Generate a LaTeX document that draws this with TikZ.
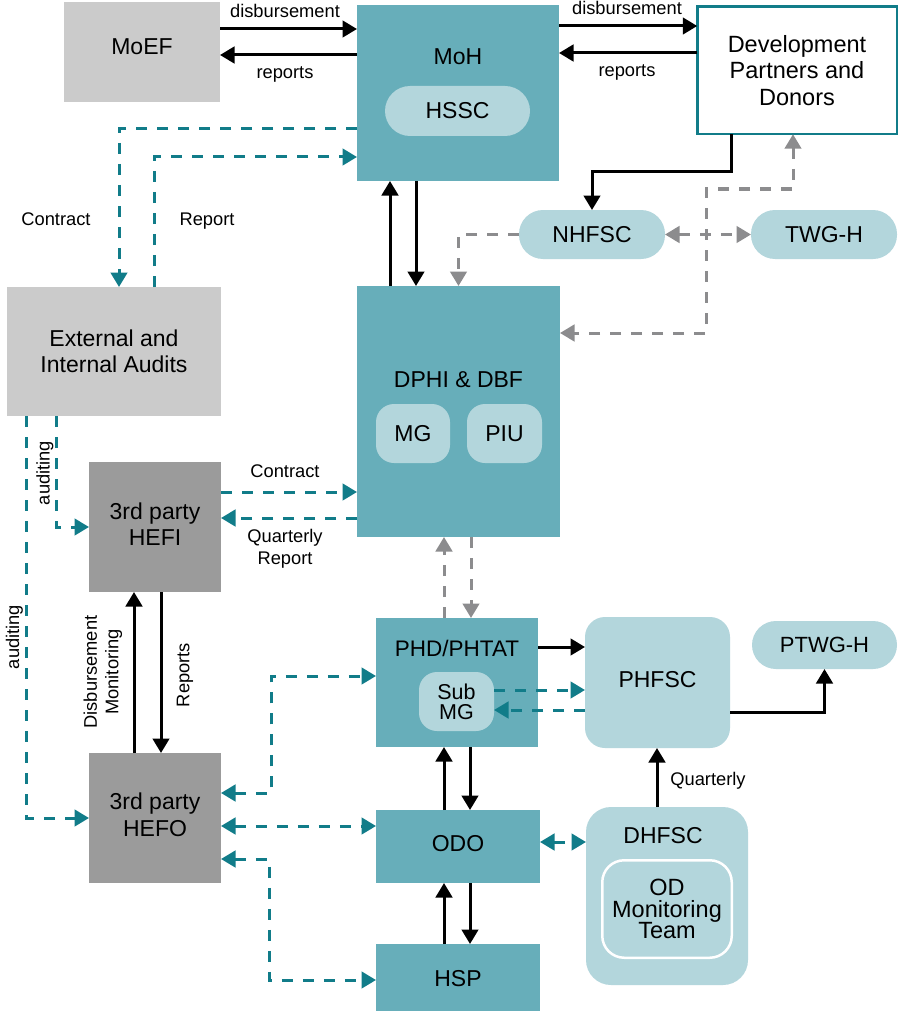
\documentclass[tikz,border=0pt]{standalone}
\usepackage{fontspec}
\setmainfont{Liberation Sans}
\usetikzlibrary{arrows.meta,calc}
\definecolor{tbox}{HTML}{67AEBA}
\definecolor{tlight}{HTML}{B3D6DC}
\definecolor{tdark}{HTML}{117C89}
\definecolor{glight}{HTML}{CBCBCB}
\definecolor{gdarkbox}{HTML}{9B9B9B}
\definecolor{gline}{HTML}{8C8C8E}
\newcommand\BigT{\fontsize{23}{26.5}\selectfont}
\newcommand\SmallT{\fontsize{18.3}{21.5}\selectfont}
\begin{document}
\begin{tikzpicture}[x=1pt,y=-1pt,
  bx/.style={inner sep=0pt, outer sep=0pt, align=center, font=\BigT, text=black},
  txt/.style={inner sep=0pt, outer sep=0pt, align=center, font=\BigT, text=black},
  lab/.style={inner sep=0pt, outer sep=0pt, align=center, font=\SmallT, text=black},
  arr/.style={line width=3pt, black, -{Triangle[length=14.5pt,width=16.5pt]}},
  tda/.style={line width=3pt, tdark, dash pattern=on 11pt off 10pt, -{Triangle[length=14.5pt,width=16.5pt]}},
  tdb/.style={line width=3pt, tdark, dash pattern=on 11pt off 10pt, {Triangle[length=14.5pt,width=16.5pt]}-{Triangle[length=14.5pt,width=16.5pt]}},
  gda/.style={line width=3pt, gline, dash pattern=on 11pt off 10pt, -{Triangle[length=14.5pt,width=16.5pt]}},
  gdb/.style={line width=3pt, gline, dash pattern=on 11pt off 10pt, {Triangle[length=14.5pt,width=16.5pt]}-{Triangle[length=14.5pt,width=16.5pt]}}
]
\useasboundingbox[fill=white] (0,0) rectangle (900,1011);

% ---------- boxes ----------
\node[bx, fill=glight, minimum width=156pt, minimum height=100pt] (moef) at (142,52) {};
\node[txt] (moeftxt) at (142,47) {MoEF};

\node[bx, fill=tbox, minimum width=202pt, minimum height=176pt] (moh) at (458,93) {};
\node[txt] (mohtxt) at (458,57) {MoH};
\node[bx, fill=tlight, minimum width=145pt, minimum height=50pt, rounded corners=25pt] (hssc) at (457.5,111) {HSSC};

\node[bx, fill=white, draw=tdark, line width=2.5pt, minimum width=199.5pt, minimum height=127.5pt, font=\fontsize{23.5}{26.5}\selectfont] (dev) at (797,70.5) {Development\\Partners and\\Donors};

\node[bx, fill=glight, minimum width=214pt, minimum height=129pt] (audits) at (114,351.5) {External and\\Internal Audits};

\node[bx, fill=tbox, minimum width=203pt, minimum height=251pt] (dphi) at (458.5,411.5) {};
\node[txt] (dphitxt) at (458.5,380) {DPHI \& DBF};
\node[bx, fill=tlight, minimum width=74pt, minimum height=59pt, rounded corners=18pt] (mg) at (413,433.5) {MG};
\node[bx, fill=tlight, minimum width=75pt, minimum height=59pt, rounded corners=18pt] (piu) at (504.5,433.5) {PIU};

\node[bx, fill=tlight, minimum width=146pt, minimum height=49pt, rounded corners=24pt] (nhfsc) at (592,234.5) {NHFSC};
\node[bx, fill=tlight, minimum width=146pt, minimum height=49pt, rounded corners=24pt] (twgh) at (824,234.5) {TWG-H};

\node[bx, fill=gdarkbox, minimum width=132pt, minimum height=130pt] (hefi) at (155,527) {};
\node[txt] (hefitxt) at (155,524) {3rd party\\HEFI};
\node[bx, fill=gdarkbox, minimum width=132pt, minimum height=130pt] (hefo) at (155,818) {};
\node[txt] (hefotxt) at (155,815) {3rd party\\HEFO};

\node[bx, fill=tbox, minimum width=162pt, minimum height=129pt] (phd) at (457,682.5) {};
\node[txt, font=\fontsize{22.5}{26}\selectfont] (phdtxt) at (457,648) {PHD/PHTAT};
\node[bx, fill=tlight, minimum width=75pt, minimum height=59pt, rounded corners=18pt, font=\fontsize{21.5}{20}\selectfont] (submg) at (456.5,701.5) {Sub\\MG};

\node[bx, fill=tlight, minimum width=145pt, minimum height=131pt, rounded corners=20pt] (phfsc) at (657.5,682.5) {};
\node[txt] (phfsctxt) at (657.5,680) {PHFSC};
\node[bx, fill=tlight, minimum width=145pt, minimum height=48pt, rounded corners=24pt, font=\fontsize{22}{26}\selectfont] (ptwgh) at (824.5,645) {PTWG-H};

\node[bx, fill=tbox, minimum width=164pt, minimum height=73pt] (odo) at (458,846.5) {};
\node[txt] (odotxt) at (458,844) {ODO};
\node[bx, fill=tbox, minimum width=164pt, minimum height=67pt] (hsp) at (458,977.5) {};
\node[txt] (hsptxt) at (458,979) {HSP};

\node[bx, fill=tlight, minimum width=162pt, minimum height=178pt, rounded corners=25pt] (dhfsc) at (667,896) {};
\node[txt] (dhfsctxt) at (663,836) {DHFSC};
\node[bx, fill=tlight, draw=white, line width=2.5pt, minimum width=129.5pt, minimum height=97.5pt, rounded corners=22pt, font=\fontsize{23.5}{21.5}\selectfont] (odteam) at (667,909) {OD\\Monitoring\\Team};

% ---------- connectors ----------
\draw[arr] (moef.east |- 0,29) -- (moh.west |- 0,29);
\draw[arr] (moh.west |- 0,55) -- (moef.east |- 0,55);
\draw[arr] (moh.east |- 0,26) -- (dev.west |- 0,26);
\draw[arr] (dev.west |- 0,53) -- (moh.east |- 0,53);
\node[lab, anchor=base] (ldis1) at (285,18) {disbursement};
\node[lab, anchor=base] (lrep1) at (285,79) {reports};
\node[lab, anchor=base] (ldis2) at (627,15) {disbursement};
\node[lab, anchor=base] (lrep2) at (627,77) {reports};

\draw[tda] (moh.west |- 0,129) -| (audits.north -| 119,0);
\draw[tda] (audits.north -| 154,0) |- (moh.west |- 0,157);
\node[lab, anchor=base] (lcon1) at (56,225) {Contract};
\node[lab, anchor=base] (lrepo1) at (207,225) {Report};

\draw[arr] (dphi.north -| 390,0) -- (moh.south -| 390,0);
\draw[arr] (moh.south -| 416,0) -- (dphi.north -| 416,0);

\draw[arr] (dev.south -| 731,0) -- ++(0,37) -| (nhfsc.north);
\draw[gdb] (nhfsc.east) -- (twgh.west);
\draw[gda] (nhfsc.west) -| (dphi.north);
\draw[gdb] (dev.south -| 793,0) -- (793,189) -- (706,189) -- (706,333) -- (dphi.east |- 0,333);

\draw[tda] (hefi.east |- 0,492) -- (dphi.west |- 0,492);
\draw[tda] (dphi.west |- 0,518) -- (hefi.east |- 0,518);
\node[lab, anchor=base] (lcon2) at (285,477) {Contract};
\node[lab] (lqr) at (285,549) {Quarterly\\Report};

\draw[tda] (audits.south -| 56,0) |- (hefi.west);
\draw[tda] (audits.south -| 26,0) |- (hefo.west);
\node[lab, rotate=90] (laud1) at (45,473) {auditing};
\node[lab, rotate=90] (laud2) at (14.5,637) {auditing};

\draw[arr] (hefo.north -| 134,0) -- (hefi.south -| 134,0);
\draw[arr] (hefi.south -| 161,0) -- (hefo.north -| 161,0);
\node[lab, rotate=90] (ldm) at (103,672) {Disbursement\\Monitoring};
\node[lab, rotate=90] (lreps) at (185,675) {Reports};

\draw[gda] (phd.north -| 444,0) -- (dphi.south -| 444,0);
\draw[gda] (dphi.south -| 471,0) -- (phd.north -| 471,0);

\draw[arr] (phd.east |- 0,647) -- (phfsc.west |- 0,647);
\draw[tda] (submg.east |- 0,690) -- (phfsc.west |- 0,690);
\draw[tda] (phfsc.west |- 0,710) -- (submg.east |- 0,710);
\draw[arr] (phfsc.east |- 0,712) -| (ptwgh.south);

\draw[arr] (dhfsc.north -| 657,0) -- (phfsc.south -| 657,0);
\node[lab, anchor=base] (lquart) at (708,785) {Quarterly};

\draw[arr] (odo.north -| 444,0) -- (phd.south -| 444,0);
\draw[arr] (phd.south -| 470,0) -- (odo.north -| 470,0);
\draw[arr] (hsp.north -| 444,0) -- (odo.south -| 444,0);
\draw[arr] (odo.south -| 470,0) -- (hsp.north -| 470,0);

\draw[tdb] (odo.east |- 0,842) -- (dhfsc.west |- 0,842);

\draw[tdb] (hefo.east |- 0,793) -- (271,793) |- (phd.west |- 0,676);
\draw[tdb] (hefo.east |- 0,826) -- (odo.west |- 0,826);
\draw[tdb] (hefo.east |- 0,859) -- (269,859) |- (hsp.west |- 0,980);
\end{tikzpicture}
\end{document}
